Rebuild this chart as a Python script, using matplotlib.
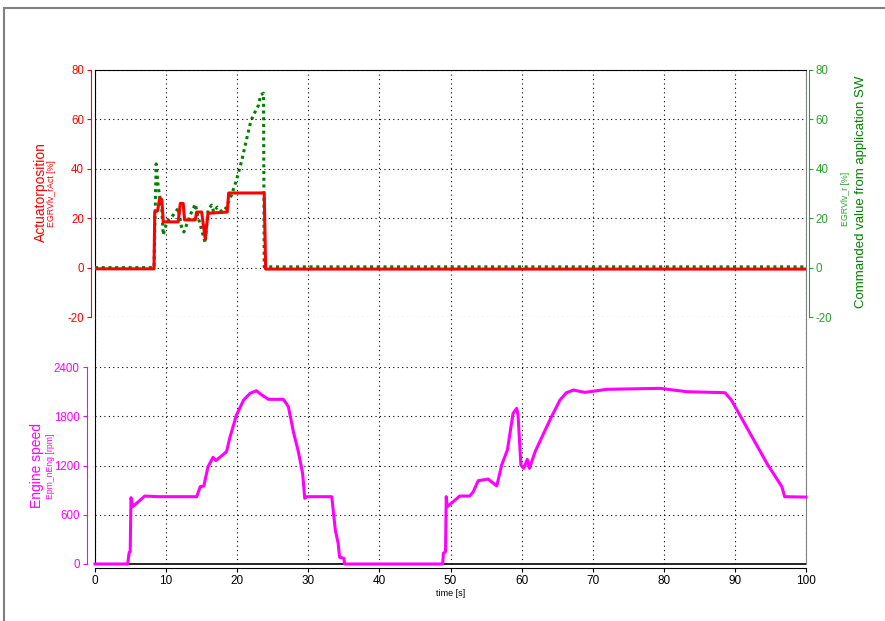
import matplotlib
matplotlib.use('Agg')
import matplotlib.pyplot as plt
from matplotlib.patches import Rectangle

plt.rcParams['font.family'] = ['Liberation Sans', 'DejaVu Sans']
plt.rcParams['axes.unicode_minus'] = False

# EGR valve actuator position [%]
t_act = [0, 8.3, 8.4, 8.8, 9.1, 9.4, 9.6, 11.7, 12.0, 12.4,
         12.6, 14.1, 14.3, 15.0, 15.5, 15.9, 18.6, 18.8, 23.8, 24.0, 100]
act = [-0.5, -0.5, 22.5, 23, 28.2, 27.5, 18.5, 18.5, 26, 26,
       19.3, 19.3, 22.5, 22.5, 11.6, 22, 22.5, 30.2, 30.2, -0.6, -0.6]

# commanded value [%]
t_cmd = [0, 8.3, 8.6, 8.9, 9.4, 9.6, 10.1, 10.8, 11.7, 12.2,
         12.5, 13.4, 14.1, 14.5, 15.5, 15.9, 16.4, 16.7, 17.2, 17.9,
         18.3, 19.2, 19.9, 20.6, 21.3, 21.9, 22.3, 23.0, 23.3, 23.7,
         23.8, 100]
cmd = [0, 0, 42, 32.6, 23.3, 13.2, 18.5, 20.5, 24, 16,
       14.4, 21.3, 25.7, 20.5, 10, 23.3, 25.3, 22.5, 24.5, 22.5,
       23.5, 29.4, 35.5, 42.9, 51.7, 59.1, 61.8, 65.8, 69.9, 70.6,
       0.3, 0.3]

# engine speed [rpm]
t_eng = [0, 4.6, 4.8, 4.95, 5.06, 5.3, 7.0, 9.0, 14.3, 14.8,
         15.3, 15.9, 16.6, 17.0, 18.5, 19.0, 19.9, 20.9, 21.8, 22.7,
         23.4, 24.4, 26.5, 27.2, 27.9, 28.6, 29.2, 29.5, 29.8, 33.3,
         33.8, 34.2, 34.4, 35.0, 35.1, 48.9, 49.0, 49.3, 49.4, 49.55,
         51.3, 52.7, 53.2, 53.9, 55.3, 56.5, 57.2, 58.0, 58.8, 59.3,
         59.5, 59.9, 60.3, 60.8, 61.1, 61.9, 63.1, 64.2, 65.4, 66.3,
         67.3, 68.9, 72.0, 79.5, 83.2, 88.6, 89.5, 94.5, 96.6, 97.0, 100]
eng = [0, 0, 138, 150, 808, 698, 828, 820, 820, 942,
       950, 1185, 1300, 1260, 1368, 1550, 1815, 1997, 2079, 2111,
       2062, 2006, 2006, 1916, 1611, 1368, 1104, 800, 820, 820,
       414, 252, 82, 70, 0, 0, 130, 150, 820, 698,
       828, 828, 880, 1015, 1035, 950, 1206, 1389, 1835, 1896,
       1814, 1206, 1165, 1275, 1165, 1368, 1592, 1794, 1998, 2087,
       2119, 2091, 2128, 2140, 2099, 2087, 1998, 1226, 942, 820, 815]

x_ticks = list(range(0, 101, 10))
act_ticks = [-20, 0, 20, 40, 60, 80]
eng_ticks = [0, 600, 1200, 1800, 2400]

RED = '#ff0000'
GREEN = '#008000'
GREEN_AX = '#2ca02c'
MAG = '#ff00ff'

W, H = 885, 621
fig = plt.figure(figsize=(W / 100, H / 100), dpi=100)

def rect(x0, y0, x1, y1):
    return [x0 / W, 1 - y1 / H, (x1 - x0) / W, (y1 - y0) / H]

# outer gray frame
fig.patches.append(Rectangle((4 / W, -0.01), 1.0, 1 - 8 / H + 0.01,
                             transform=fig.transFigure, fill=False,
                             edgecolor='#808080', lw=1.5))

# main box with vertical grid and time axis
ax = fig.add_axes(rect(95, 70, 806, 564))
ax.set_xlim(0, 100)
ax.set_ylim(0, 1)
ax.set_xticks(x_ticks)
ax.set_yticks([])
ax.grid(axis='x', color='black', linestyle=(0, (1, 3)), lw=0.8)
ax.spines['right'].set_color('#808080')
ax.spines['bottom'].set_position(('outward', 3))
ax.axhline(0, color='black', lw=1.2, clip_on=False)
ax.tick_params(axis='x', labelsize=8.5, length=3, pad=2)
ax.set_xlabel('time [s]', fontsize=6.5, labelpad=1)

# upper panel: actuator position + commanded value
ax_top = fig.add_axes(rect(95, 70, 806, 317), sharex=ax)
ax_cmd = ax_top.twinx()
ax_top.set_zorder(ax_cmd.get_zorder() + 1)
ax_top.patch.set_visible(False)
for a in (ax_top, ax_cmd):
    a.set_ylim(-20, 80)
    a.set_yticks(act_ticks)
    a.tick_params(axis='x', bottom=False, labelbottom=False)
    for s in ('top', 'bottom', 'left', 'right'):
        a.spines[s].set_visible(False)

ax_top.grid(axis='y', color='black', linestyle=(0, (1, 3)), lw=0.8)
ax_top.get_ygridlines()[0].set_color('#808080')
ax_top.spines['left'].set_visible(True)
ax_top.spines['left'].set_color(RED)
ax_top.spines['left'].set_position(('outward', 3))
ax_top.tick_params(axis='y', colors=RED, labelsize=8.3, length=3, pad=2)
ax_cmd.spines['right'].set_visible(True)
ax_cmd.spines['right'].set_color(GREEN_AX)
ax_cmd.spines['right'].set_position(('outward', 2))
ax_cmd.tick_params(axis='y', colors=GREEN_AX, labelsize=8.3, length=3, pad=2)

ax_cmd.plot(t_cmd, cmd, color=GREEN, lw=2.2, linestyle=(0, (1, 1.2)))
ax_top.plot(t_act, act, color=RED, lw=2.2)

# lower panel: engine speed
ax_eng = fig.add_axes(rect(95, 367, 806, 564), sharex=ax)
ax_eng.patch.set_visible(False)
ax_eng.set_ylim(0, 2400)
ax_eng.set_yticks(eng_ticks)
ax_eng.tick_params(axis='x', bottom=False, labelbottom=False)
for s in ('top', 'bottom', 'right'):
    ax_eng.spines[s].set_visible(False)
ax_eng.spines['left'].set_color(MAG)
ax_eng.spines['left'].set_position(('outward', 6))
ax_eng.tick_params(axis='y', colors=MAG, labelsize=8.3, length=3, pad=2)
ax_eng.grid(axis='y', color='black', linestyle=(0, (1, 3)), lw=0.8)
ax_eng.plot(t_eng, eng, color=MAG, lw=2.2, clip_on=False)

# axis titles
fig.text(41 / W, 1 - 192 / H, 'Actuatorposition', rotation=90, color=RED,
         fontsize=10, ha='center', va='center')
fig.text(52 / W, 1 - 194 / H, 'EGRVlv_rAct [%]', rotation=90, color=RED,
         fontsize=6.3, ha='center', va='center')
fig.text(37 / W, 1 - 465 / H, 'Engine speed', rotation=90, color=MAG,
         fontsize=10, ha='center', va='center')
fig.text(50.5 / W, 1 - 466 / H, 'Epm_nEng [rpm]', rotation=90, color=MAG,
         fontsize=6.2, ha='center', va='center')
fig.text(861 / W, 1 - 192 / H, 'Commanded value from application SW',
         rotation=90, color=GREEN, fontsize=9.5, ha='center', va='center')
fig.text(846 / W, 1 - 199 / H, 'EGRVlv_r [%]', rotation=90, color=GREEN_AX,
         fontsize=6.3, ha='center', va='center')

fig.savefig('out.png', dpi=100)
